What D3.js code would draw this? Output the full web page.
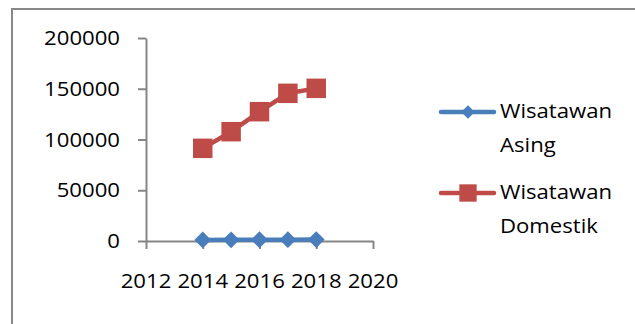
<!DOCTYPE html>
<html>
<head>
<meta charset="utf-8">
<script src="https://cdn.jsdelivr.net/npm/d3@7"></script>
<style>
	html, body { margin: 0; padding: 0; background: #fff; }
	svg { display: block; }
	text { font-family: "Open Sans", "Noto Sans", sans-serif; font-size: 20.5px; fill: #000; }
</style>
</head>
<body>
<div id="chart"></div>
<script>
const years = [2014, 2015, 2016, 2017, 2018];
const asing = [1020, 1150, 1240, 1310, 1390];
const domestik = [91300, 107700, 127400, 145500, 150400];
const xTicks = [2012, 2014, 2016, 2018, 2020];
const yTicks = [0, 50000, 100000, 150000, 200000];
const seriesNames = [["Wisatawan", "Asing"], ["Wisatawan", "Domestik"]];

(function() {
	const width = 635, height = 324;
	const blue = "#4a7ebb", red = "#be4b48", axisGray = "#868686";
	const sx = 1.08; // wide text like the original

	const svg = d3.select("#chart").append("svg")
		.attr("width", width).attr("height", height);

	// chart frame (runs off the right and bottom)
	svg.append("path")
		.attr("d", "M12,340 L12,9 L650,9")
		.attr("fill", "none").attr("stroke", "#888").attr("stroke-width", 2);

	const x = d3.scaleLinear().domain([2012, 2020]).range([146, 373]);
	const y = d3.scaleLinear().domain([0, 200000]).range([241, 38]);

	function label(g, tx, ty, str, anchor) {
		g.append("g").attr("transform", `translate(${tx},${ty}) scale(${sx},1)`)
			.append("text").attr("text-anchor", anchor).text(str);
	}

	// y axis
	const yAxis = svg.append("g").attr("transform", `translate(${x(2012)},0)`)
		.call(d3.axisLeft(y).tickValues(yTicks).tickSize(8).tickSizeOuter(0).tickFormat(""));
	yAxis.selectAll("path, line").attr("stroke", axisGray).attr("stroke-width", 2);
	yTicks.forEach(v => label(svg, 120, y(v) + 7, String(v), "end"));

	// x axis
	const xAxis = svg.append("g").attr("transform", `translate(0,${y(0)})`)
		.call(d3.axisBottom(x).tickValues(xTicks).tickSize(8).tickSizeOuter(0).tickFormat(""));
	xAxis.selectAll("path, line").attr("stroke", axisGray).attr("stroke-width", 2);
	xTicks.forEach(v => label(svg, x(v), 288, String(v), "middle"));

	const line = d3.line().x(d => x(d[0])).y(d => y(d[1]));
	const diamond = d3.symbol().type(d3.symbolDiamond2).size(180);
	const square = d3.symbol().type(d3.symbolSquare).size(380);

	const series = [
		{ values: asing, color: blue, sym: diamond, legSym: d3.symbol().type(d3.symbolDiamond2).size(115) },
		{ values: domestik, color: red, sym: square, legSym: d3.symbol().type(d3.symbolSquare).size(300) }
	];

	series.forEach(s => {
		const pts = years.map((yr, i) => [yr, s.values[i]]);
		svg.append("path").datum(pts).attr("d", line)
			.attr("fill", "none").attr("stroke", s.color).attr("stroke-width", 4.5)
			.attr("stroke-linejoin", "round").attr("stroke-linecap", "round");
		svg.selectAll(null).data(pts).enter().append("path")
			.attr("transform", d => `translate(${x(d[0])},${y(d[1])})`)
			.attr("d", s.sym).attr("fill", s.color);
	});

	// legend
	const legY = [112, 193];
	series.forEach((s, i) => {
		const g = svg.append("g").attr("transform", `translate(0,${legY[i]})`);
		g.append("line").attr("x1", 441).attr("x2", 494).attr("y1", 0).attr("y2", 0)
			.attr("stroke", s.color).attr("stroke-width", 4.5).attr("stroke-linecap", "round");
		g.append("path").attr("transform", "translate(468,0)").attr("d", s.legSym).attr("fill", s.color);
		label(g, 500, 6, seriesNames[i][0], "start");
		label(g, 500, 40, seriesNames[i][1], "start");
	});
})();
</script>
</body>
</html>
